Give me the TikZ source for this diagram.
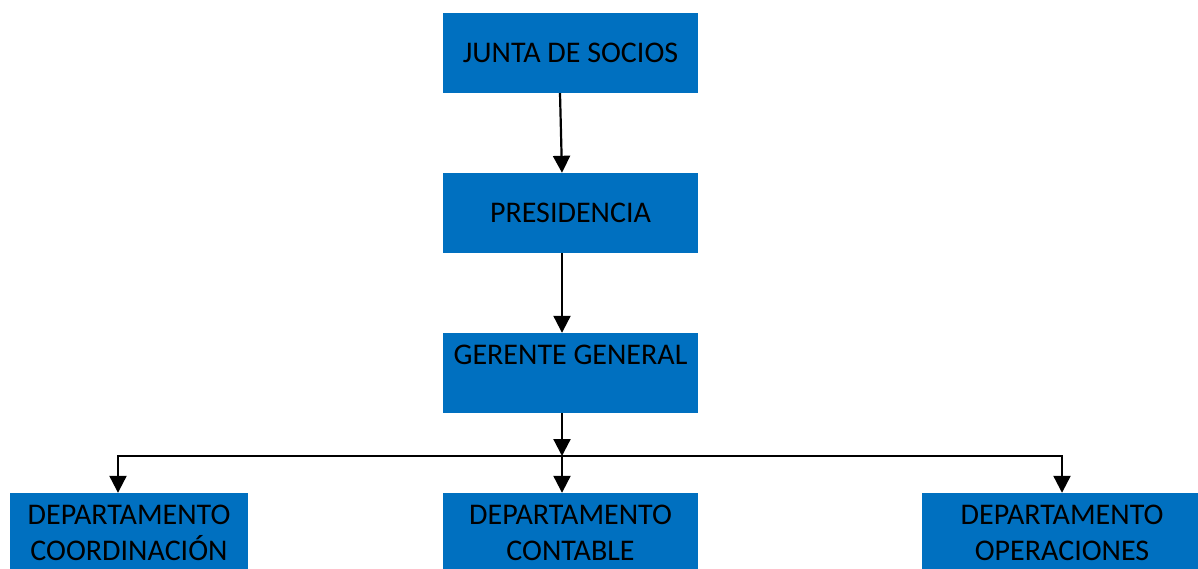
\documentclass[tikz,border=0pt]{standalone}
\usepackage{fontspec}
\setmainfont{Carlito}
\usetikzlibrary{arrows.meta}
\definecolor{cajaazul}{HTML}{0070C0}
\tikzset{
  caja/.style={fill=cajaazul, inner sep=0pt, minimum height=80pt, align=center,
    font=\fontsize{30}{36}\selectfont},
  flecha/.style={-{Triangle[width=17pt,length=17pt]}, line width=2.2pt},
}
\begin{document}
\begin{tikzpicture}[x=1pt,y=-1pt]
    \useasboundingbox (0,0) rectangle (1198,568);
    \clip (0,0) rectangle (1198,568);
    % ejes de las flechas
    \coordinate (ejeA) at (560,0);
    \coordinate (eje) at (562,0);
    \coordinate (ejeI) at (118,0);
    \coordinate (ejeD) at (1062,0);
    \coordinate (rama) at (562,456);
    % cajas
    \node[caja, minimum width=255pt] (junta) at (570.5,53) {JUNTA DE SOCIOS};
    \node[caja, minimum width=255pt] (presidencia) at (570.5,213) {PRESIDENCIA};
    \node[caja, minimum width=255pt] (gerente) at (570.5,373) {GERENTE GENERAL\\~};
    \node[caja, minimum width=238pt] (coordinacion) at (129,533) {\raisebox{-3pt}{DEPARTAMENTO}\\\raisebox{-3pt}{COORDINACIÓN}};
    \node[caja, minimum width=255pt] (contable) at (570.5,533) {DEPARTAMENTO\\CONTABLE};
    \node[caja, minimum width=280pt] (operaciones) at (1062,533) {DEPARTAMENTO\\OPERACIONES};
    % flechas
    \draw[flecha] (junta.south -| ejeA) -- (presidencia.north -| eje);
    \draw[flecha] (presidencia.south -| eje) -- (gerente.north -| eje);
    \draw[flecha] (gerente.south -| eje) -- (rama);
    \draw[flecha] (rama) -- (contable.north -| eje);
    \draw[flecha] (rama) -| (coordinacion.north -| ejeI);
    \draw[flecha] (rama) -| (operaciones.north -| ejeD);
\end{tikzpicture}
\end{document}
